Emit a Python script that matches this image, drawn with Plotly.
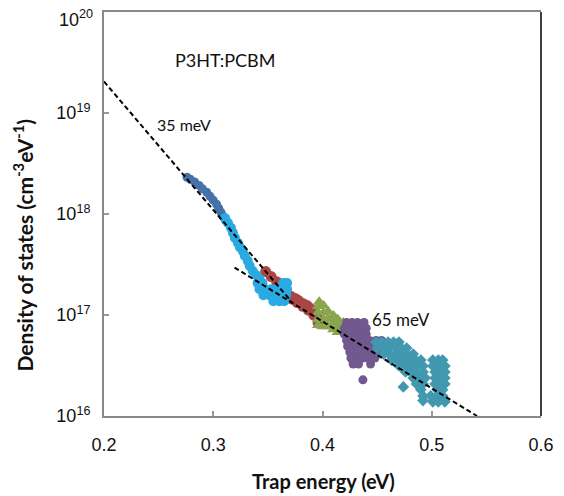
import plotly.graph_objects as go

# ---------------- data ----------------
# dark blue series
blue_E = [0.276, 0.279, 0.283, 0.287, 0.290, 0.294, 0.297, 0.300, 0.303, 0.305, 0.307, 0.309, 0.311]
blue_N = [2.31e18, 2.21e18, 2.08e18, 1.92e18, 1.78e18, 1.64e18, 1.50e18, 1.37e18, 1.25e18, 1.14e18, 1.04e18, 9.5e17, 8.7e17]

# light (cyan) series
cyan_E = [0.3108, 0.3135, 0.3162, 0.3180, 0.3198, 0.3225, 0.3243, 0.3270, 0.3288, 0.3315, 0.3333, 0.3360,
          0.3387, 0.3423,
          0.3405, 0.3450, 0.3640, 0.3676,
          0.3423, 0.3477, 0.3532, 0.3586, 0.3640, 0.3676,
          0.3459, 0.3514, 0.3568, 0.3622, 0.3667,
          0.3550, 0.3604, 0.3649]
cyan_N = [9.1e17, 8.15e17, 7.3e17, 6.5e17, 5.8e17, 5.2e17, 4.7e17, 4.3e17, 3.86e17, 3.44e17, 3.08e17, 2.74e17,
          2.51e17, 2.29e17,
          2.07e17, 2.07e17, 2.07e17, 2.07e17,
          1.80e17, 1.80e17, 1.80e17, 1.80e17, 1.80e17, 1.80e17,
          1.57e17, 1.57e17, 1.57e17, 1.57e17, 1.57e17,
          1.37e17, 1.37e17, 1.37e17]

# red series
red_E = [0.348, 0.353, 0.358, 0.363, 0.368, 0.371, 0.375, 0.378, 0.382, 0.386, 0.389, 0.392, 0.394, 0.396, 0.396,
         0.372, 0.377, 0.382, 0.387, 0.392]
red_N = [2.69e17, 2.40e17, 2.14e17, 1.78e17, 1.60e17, 1.53e17, 1.46e17, 1.39e17, 1.30e17, 1.24e17, 1.16e17, 1.09e17,
         9.9e16, 9.1e16, 8.3e16,
         1.44e17, 1.33e17, 1.22e17, 1.12e17, 1.00e17]

# green series
green_E = [0.397, 0.396, 0.396, 0.396, 0.396, 0.401, 0.401, 0.401, 0.401, 0.405, 0.405, 0.405,
           0.410, 0.410, 0.410, 0.414, 0.414, 0.414, 0.419, 0.419]
green_N = [1.35e17, 1.22e17, 1.06e17, 9.1e16, 7.9e16, 1.24e17, 1.06e17, 9.1e16, 7.7e16, 1.09e17, 9.3e16, 7.7e16,
           9.9e16, 8.45e16, 7.2e16, 9.1e16, 7.7e16, 6.75e16, 8.45e16, 7.2e16]

# purple series
purple_E = [0.422, 0.427, 0.432, 0.438,
            0.420, 0.425, 0.431, 0.436, 0.440,
            0.420, 0.425, 0.431, 0.436, 0.440,
            0.422, 0.427, 0.432, 0.438, 0.443, 0.449, 0.454,
            0.423, 0.429, 0.434, 0.440, 0.445, 0.450, 0.456,
            0.425, 0.431, 0.436, 0.441, 0.447, 0.452, 0.458,
            0.426, 0.432, 0.437, 0.442, 0.448,
            0.428, 0.433, 0.444,
            0.437]
purple_N = [8.45e16, 8.45e16, 8.45e16, 8.45e16,
            7.4e16, 7.4e16, 7.4e16, 7.4e16, 7.4e16,
            6.45e16, 6.45e16, 6.45e16, 6.45e16, 6.45e16,
            5.6e16, 5.6e16, 5.6e16, 5.6e16, 5.6e16, 5.6e16, 5.6e16,
            4.9e16, 4.9e16, 4.9e16, 4.9e16, 4.9e16, 4.9e16, 4.9e16,
            4.3e16, 4.3e16, 4.3e16, 4.3e16, 4.3e16, 4.3e16, 4.3e16,
            3.75e16, 3.75e16, 3.75e16, 3.75e16, 3.75e16,
            3.27e16, 3.27e16, 3.27e16,
            2.28e16]

# teal series
teal_E = [0.449, 0.454, 0.460, 0.465, 0.470,
          0.450, 0.456, 0.461, 0.467, 0.472, 0.477,
          0.456, 0.461, 0.467, 0.472, 0.477, 0.483,
          0.463, 0.468, 0.474, 0.479, 0.485, 0.490, 0.501, 0.506, 0.510,
          0.470, 0.476, 0.481, 0.486, 0.492, 0.501, 0.506, 0.512,
          0.476, 0.481, 0.486, 0.492, 0.503, 0.508, 0.512,
          0.483, 0.488, 0.494, 0.503, 0.508, 0.512,
          0.486, 0.492, 0.503, 0.508, 0.512,
          0.490, 0.505, 0.510,
          0.492, 0.499, 0.505, 0.510,
          0.501, 0.506, 0.512,
          0.474, 0.492]
teal_N = [5.4e16, 5.4e16, 5.4e16, 5.4e16, 5.4e16,
          4.7e16, 4.7e16, 4.7e16, 4.7e16, 4.7e16, 4.7e16,
          4.1e16, 4.1e16, 4.1e16, 4.1e16, 4.1e16, 4.1e16,
          3.58e16, 3.58e16, 3.58e16, 3.58e16, 3.58e16, 3.58e16, 3.58e16, 3.58e16, 3.58e16,
          3.13e16, 3.13e16, 3.13e16, 3.13e16, 3.13e16, 3.13e16, 3.13e16, 3.13e16,
          2.73e16, 2.73e16, 2.73e16, 2.73e16, 2.73e16, 2.73e16, 2.73e16,
          2.38e16, 2.38e16, 2.38e16, 2.38e16, 2.38e16, 2.38e16,
          2.08e16, 2.08e16, 2.08e16, 2.08e16, 2.08e16,
          1.82e16, 1.82e16, 1.82e16,
          1.58e16, 1.58e16, 1.58e16, 1.58e16,
          1.38e16, 1.38e16, 1.38e16,
          1.94e16, 1.42e16]

# exponential fits (dashed)
fit35_E = [0.200, 0.373]
fit35_N = [2.05e19, 1.3e17]
fit65_E = [0.3195, 0.5414]
fit65_N = [2.95e17, 1.0e16]

x_ticks = [0.2, 0.3, 0.4, 0.5, 0.6]
x_ticklabels = ["0.2", "0.3", "0.4", "0.5", "0.6"]
y_ticks = [1e16, 1e17, 1e18, 1e19, 1e20]
y_ticklabels = ["10<sup>16</sup>", "10<sup>17</sup>", "10<sup>18</sup>", "10<sup>19</sup>", ""]
top_label = "10<sup>20</sup>"

# ---------------- figure ----------------
fig = go.Figure()


def add_markers(x, y, color, symbol, size):
    fig.add_trace(go.Scatter(x=x, y=y, mode="markers", showlegend=False, hoverinfo="skip",
                             marker=dict(color=color, symbol=symbol, size=size, line=dict(width=0))))


add_markers(red_E, red_N, "#AA4643", "circle", 11)
add_markers(blue_E, blue_N, "#4572A7", "circle", 9)
add_markers(cyan_E, cyan_N, "#29ABE2", "circle", 10)
add_markers(green_E, green_N, "#89A54E", "triangle-up", 11)
add_markers(purple_E, purple_N, "#71588F", "circle", 9)
add_markers(teal_E, teal_N, "#4198AF", "diamond", 9)

for xe, yn in ((fit35_E, fit35_N), (fit65_E, fit65_N)):
    fig.add_trace(go.Scatter(x=xe, y=yn, mode="lines", showlegend=False, hoverinfo="skip",
                             line=dict(color="black", width=2, dash="5px,3px")))

fig.update_layout(
    width=564, height=496,
    margin=dict(l=104, r=16, t=10, b=80),
    plot_bgcolor="white", paper_bgcolor="white",
    xaxis=dict(range=[0.2, 0.6], tickvals=x_ticks, ticktext=x_ticklabels,
               showgrid=False, zeroline=False, showline=True, linecolor="#888888", linewidth=2,
               mirror=True, ticks="inside", ticklen=5, tickwidth=1.5, tickcolor="#999999",
               tickfont=dict(family="Liberation Sans", size=18, color="#111111"),
               ticklabelstandoff=11),
    yaxis=dict(type="log", range=[16, 20], tickvals=y_ticks, ticktext=y_ticklabels,
               showgrid=False, zeroline=False, showline=True, linecolor="#888888", linewidth=2,
               ticks="inside", ticklen=5, tickwidth=1.5, tickcolor="#999999",
               tickfont=dict(family="Liberation Sans", size=18, color="#111111"),
               ticklabelstandoff=8),
    shapes=[dict(type="line", xref="paper", yref="paper", x0=1, x1=1, y0=0, y1=1,
                 line=dict(color="black", width=1.5))],
    annotations=[
        dict(text=top_label, xref="paper", yref="paper", x=-0.02, y=0.983,
             showarrow=False, xanchor="right", yanchor="middle",
             font=dict(family="Liberation Sans", size=18, color="#111111")),
        dict(text="P3HT:PCBM", xref="paper", yref="paper", x=0.276, y=0.8805,
             showarrow=False, xanchor="center", yanchor="middle",
             font=dict(family="Lato", size=18, color="#111111")),
        dict(text="35 meV", xref="paper", yref="paper", x=0.183, y=0.722,
             showarrow=False, xanchor="center", yanchor="middle",
             font=dict(family="Lato", size=16, color="#111111")),
        dict(text="65 meV", xref="paper", yref="paper", x=0.68, y=0.239,
             showarrow=False, xanchor="center", yanchor="middle",
             font=dict(family="Lato", size=17, color="#111111")),
        dict(text="<b>Trap energy (eV)</b>", xref="paper", yref="paper", x=0.502, y=-0.162,
             showarrow=False, xanchor="center", yanchor="middle",
             font=dict(family="Lato", size=20, color="#111111")),
        dict(text="<b>Density of states (cm<sup>-3</sup>eV<sup>-1</sup>)</b>", xref="paper", yref="paper",
             x=-0.185, y=0.4224, textangle=-90, showarrow=False, xanchor="center", yanchor="middle",
             font=dict(family="Lato", size=21, color="#111111")),
    ],
)

fig.write_html("out.html")
